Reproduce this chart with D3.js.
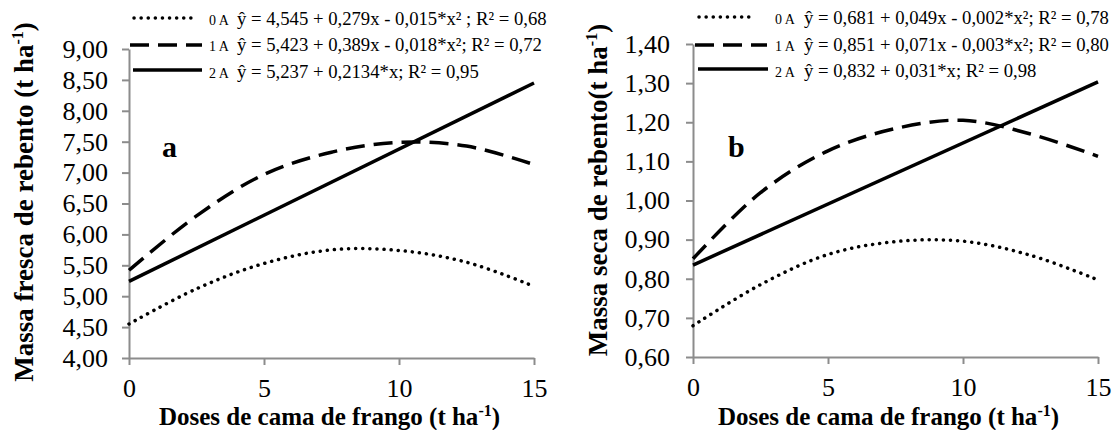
<!DOCTYPE html>
<html>
<head>
<meta charset="utf-8">
<script src="https://cdn.jsdelivr.net/npm/d3@7"></script>
<style>
  body { margin: 0; background: #fff; }
  svg text { font-family: "Liberation Serif", "Times New Roman", serif; }
</style>
</head>
<body>
<div id="chart-area"></div>
<script>
// doses (x) and read-off values for each panel
const DOSES = [0, 2.5, 5, 7.5, 10, 12.5, 15];
const DOSES_LINEAR = [0, 15];
const X_TICKS = [0, 5, 10, 15];

const FRESH_0A = [4.55, 5.12, 5.53, 5.75, 5.74, 5.55, 5.16];
const FRESH_1A = [5.42, 6.30, 6.97, 7.33, 7.49, 7.43, 7.13];
const FRESH_2A = [5.24, 8.45];
const FRESH_TICKS = [4, 4.5, 5, 5.5, 6, 6.5, 7, 7.5, 8, 8.5, 9];

const DRY_0A = [0.68, 0.785, 0.862, 0.895, 0.896, 0.86, 0.797];
const DRY_1A = [0.851, 1.02, 1.127, 1.184, 1.205, 1.17, 1.113];
const DRY_2A = [0.835, 1.303];
const DRY_TICKS = [0.6, 0.7, 0.8, 0.9, 1.0, 1.1, 1.2, 1.3, 1.4];

const FRESH_EQ = [
  { tag: '0 A', eq: 'ŷ = 4,545 + 0,279x - 0,015*x² ; R² = 0,68' },
  { tag: '1 A', eq: 'ŷ = 5,423 + 0,389x - 0,018*x²; R² = 0,72' },
  { tag: '2 A', eq: 'ŷ = 5,237 + 0,2134*x; R² = 0,95' },
];
const DRY_EQ = [
  { tag: '0 A', eq: '= 0,681 + 0,049x - 0,002*x²; R² = 0,78' },
  { tag: '1 A', eq: '= 0,851 + 0,071x - 0,003*x²; R² = 0,80' },
  { tag: '2 A', eq: '= 0,832 + 0,031*x; R² = 0,98' },
];

const STYLES = [
  { dash: '0.1 7', cap: 'round', width: 3.5 },
  { dash: '19 9', cap: 'butt', width: 3.5 },
  { dash: null, cap: 'butt', width: 3.5 },
];

const SERIF = '"Liberation Serif", "Times New Roman", serif';
const fmt = (v) => d3.format('.2f')(v).replace('.', ',');

const svg = d3.select('#chart-area')
  .append('svg')
  .attr('width', 1120)
  .attr('height', 430);

const drawPanel = (p) => {
  const x = d3.scaleLinear().domain([0, 15]).range([p.left, p.right]);
  const y = d3.scaleLinear().domain(p.yDomain).range([p.bottom, p.top]);

  const g = svg.append('g').attr('font-family', SERIF);

  // axes
  const yAxis = d3.axisLeft(y)
    .tickValues(p.yTicks)
    .tickFormat(fmt)
    .tickSize(7)
    .tickSizeOuter(0)
    .tickPadding(p.yPad);
  const xAxis = d3.axisBottom(x)
    .tickValues(X_TICKS)
    .tickFormat(d3.format('d'))
    .tickSize(7)
    .tickSizeOuter(0);

  const ya = g.append('g')
    .attr('transform', `translate(${p.left},0)`)
    .call(yAxis);
  const xa = g.append('g')
    .attr('transform', `translate(0,${p.bottom})`)
    .call(xAxis);

  [ya, xa].forEach((a) => {
    a.attr('font-family', SERIF).attr('font-size', 26);
    a.select('.domain').attr('stroke', '#8c8c8c').attr('stroke-width', 2);
    a.selectAll('.tick line').attr('stroke', '#8c8c8c').attr('stroke-width', 2);
    a.selectAll('.tick text').attr('fill', '#000');
  });
  xa.selectAll('.tick text').attr('dy', null).attr('y', 39);

  // curves
  const line = d3.line()
    .x((d) => x(d[0]))
    .y((d) => y(d[1]))
    .curve(d3.curveCatmullRom.alpha(0.5));

  p.series.forEach((s, i) => {
    const st = STYLES[i];
    g.append('path')
      .datum(s.xs.map((xv, j) => [xv, s.ys[j]]))
      .attr('fill', 'none')
      .attr('stroke', '#000')
      .attr('stroke-width', st.width)
      .attr('stroke-linecap', st.cap)
      .attr('stroke-dasharray', st.dash)
      .attr('d', line);
  });

  // legend
  p.legend.forEach((l, i) => {
    const st = STYLES[i];
    const ly = p.legendY[i];
    g.append('line')
      .attr('x1', p.legX[i][0]).attr('x2', p.legX[i][1])
      .attr('y1', ly).attr('y2', ly)
      .attr('stroke', '#000')
      .attr('stroke-width', st.width)
      .attr('stroke-linecap', st.cap)
      .attr('stroke-dasharray', st.dash);
    g.append('text')
      .attr('x', p.tagX).attr('y', ly + p.textDy[i])
      .style('font-size', '14px')
      .text(l.tag);
    if (p.hatX) {
      g.append('text')
        .attr('x', p.hatX).attr('y', ly + p.textDy[i])
        .style('font-size', '18.7px')
        .text('ŷ');
    }
    g.append('text')
      .attr('x', p.eqX).attr('y', ly + p.textDy[i])
      .style('font-size', '18.7px')
      .text(l.eq);
  });

  // panel letter
  g.append('text')
    .attr('x', p.letterX).attr('y', 157)
    .style('font-size', '30px')
    .style('font-weight', 'bold')
    .text(p.letter);

  // axis titles
  const xt = g.append('text')
    .attr('x', (p.left + p.right) / 2 + p.xTitleShift)
    .attr('y', p.xTitleY)
    .attr('text-anchor', 'middle')
    .style('font-size', '25px')
    .style('font-weight', 'bold');
  xt.append('tspan').text('Doses de cama de frango (t ha');
  xt.append('tspan').attr('dy', -9).style('font-size', '16px').text('-1');
  xt.append('tspan').attr('dy', 9).text(')');

  const yt = g.append('text')
    .attr('transform', `translate(${p.yTitleX},${p.yTitleY}) rotate(-90)`)
    .attr('text-anchor', 'middle')
    .style('font-size', '27px')
    .style('font-weight', 'bold');
  yt.append('tspan').text(p.yTitle);
  yt.append('tspan').attr('dy', -10).style('font-size', '16px').text('-1');
  yt.append('tspan').attr('dy', 10).text(')');
};

drawPanel({
  left: 129, right: 534, top: 49, bottom: 358,
  yDomain: [4, 9], yTicks: FRESH_TICKS, yPad: 14,
  series: [
    { xs: DOSES, ys: FRESH_0A },
    { xs: DOSES, ys: FRESH_1A },
    { xs: DOSES_LINEAR, ys: FRESH_2A },
  ],
  legend: FRESH_EQ,
  legendY: [18, 45, 70],
  legX: [[134, 191], [130, 202], [133, 202]],
  textDy: [7, 6, 8],
  tagX: 209, hatX: null, eqX: 237,
  letter: 'a', letterX: 162,
  xTitleShift: -2, xTitleY: 425,
  yTitle: 'Massa fresca de rebento (t ha', yTitleX: 33, yTitleY: 202,
});

drawPanel({
  left: 693, right: 1098, top: 44, bottom: 357,
  yDomain: [0.6, 1.4], yTicks: DRY_TICKS, yPad: 16,
  series: [
    { xs: DOSES, ys: DRY_0A },
    { xs: DOSES, ys: DRY_1A },
    { xs: DOSES_LINEAR, ys: DRY_2A },
  ],
  legend: DRY_EQ,
  legendY: [17, 45, 69],
  legX: [[699, 753], [695, 767], [698, 768]],
  textDy: [7, 6, 8],
  tagX: 775, hatX: 804, eqX: 818,
  letter: 'b', letterX: 728,
  xTitleShift: -7, xTitleY: 425,
  yTitle: 'Massa seca de rebento(t ha', yTitleX: 607, yTitleY: 190,
});
</script>
</body>
</html>
